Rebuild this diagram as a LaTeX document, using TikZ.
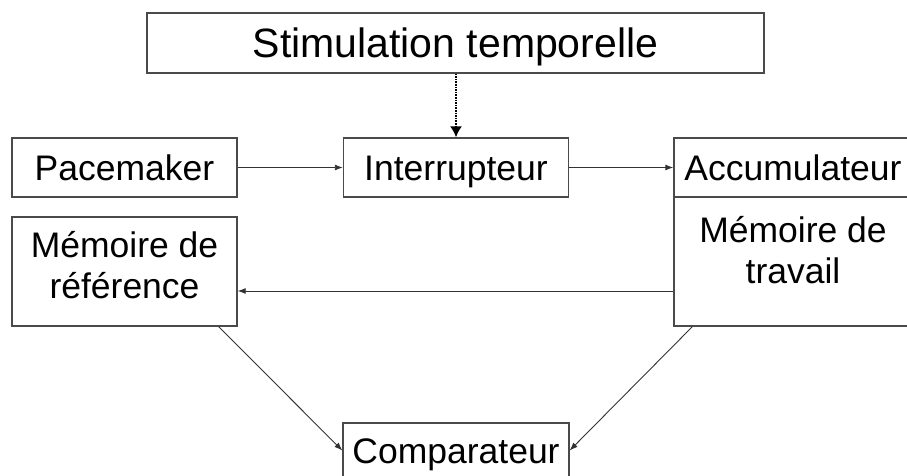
\documentclass[tikz,border=0pt]{standalone}
\usepackage{fontspec}
\setmainfont{Liberation Sans}
\usetikzlibrary{arrows.meta,calc}
\definecolor{boxline}{HTML}{4A4A4A}
\definecolor{conline}{HTML}{333333}
\begin{document}
\begin{tikzpicture}[x=1pt,y=-1pt,
  box/.style={draw=boxline,line width=1.4pt,inner sep=0pt,fill=white,
    font=\fontsize{35.5}{42}\selectfont,align=center},
  onebox/.style={box,text height=25.4pt,text depth=0pt},
  conn/.style={draw=conline,line width=0.9pt,-{Latex[length=8pt,width=6pt]}},
  dotconn/.style={draw=black,line width=1.6pt,densely dotted,-{Latex[length=11pt,width=12pt]}},
  txt/.style={inner sep=0pt,font=\fontsize{35.5}{41}\selectfont,align=center}]
\useasboundingbox (0,0) rectangle (907,476);
\node[onebox,minimum width=617pt,minimum height=60pt,font=\fontsize{41}{48}\selectfont,text height=29.4pt] (stim) at (455.5,43) {Stimulation temporelle};
\node[onebox,minimum width=225pt,minimum height=59pt] (pace) at (124.5,167.5) {Pacemaker};
\node[onebox,minimum width=225pt,minimum height=59pt] (intr) at (456,167.5) {Interrupteur};
\node[onebox,minimum width=238pt,minimum height=59pt] (acc) at (793,167.5) {Accumulateur};
\node[box,minimum width=238pt,minimum height=129pt] (trav) at (793,261.5) {};
\node[txt] (travtxt) at (793,250) {Mémoire de\\travail};
\node[box,minimum width=225pt,minimum height=109pt] (ref) at (124.5,271.5) {};
\node[txt] (reftxt) at (124.5,265) {Mémoire de\\référence};
\node[onebox,minimum width=226pt,minimum height=55pt] (comp) at (456,450.5) {Comparateur};
\draw[dotconn] (stim.south -| intr.north) -- (intr.north);
\draw[conn] (pace.east) -- (intr.west);
\draw[conn] (intr.east) -- (acc.west);
\draw[conn] ([yshift=-29.5pt]trav.west) -- ([yshift=-29.5pt]trav.west -| ref.east);
\draw[conn] ([xshift=-19pt]ref.south east) -- (comp.west);
\draw[conn] ([xshift=19pt]trav.south west) -- (comp.east);
\end{tikzpicture}
\end{document}
